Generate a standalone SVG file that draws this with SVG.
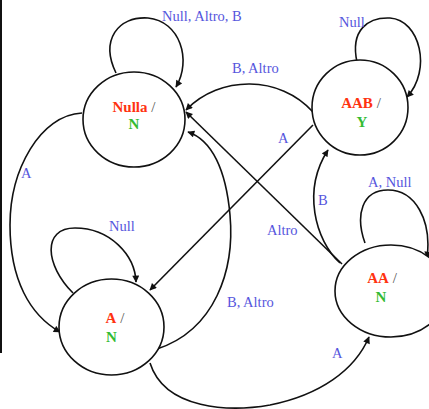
<svg xmlns="http://www.w3.org/2000/svg" width="429" height="409" viewBox="0 0 429 409">
<defs>
<marker id="ah" viewBox="0 0 10 10" refX="9" refY="5" markerWidth="8" markerHeight="7" markerUnits="userSpaceOnUse" orient="auto">
<path d="M0,0 L10,5 L0,10 z" fill="#111"/>
</marker>
<style>
.st{fill:#fff;stroke:#111;stroke-width:1.6}
.e{fill:none;stroke:#111;stroke-width:1.6;marker-end:url(#ah)}
.lb{font-family:"Liberation Serif","Times New Roman",serif;font-size:14.5px;fill:#5555dd}
.nm{font-family:"Liberation Serif","Times New Roman",serif;font-size:15px;font-weight:bold}
.r{fill:#ff3311}
.g{fill:#33bb33}
.s{fill:#555;font-weight:normal}
</style>
</defs>
<rect width="429" height="409" fill="#fff"/>
<rect x="0" y="0" width="2" height="353" fill="#111"/>
<g id="connectors">
<path class="e" d="M116,73 C100,40 118,16 148,18 C180,21 192,60 176,87"/>
<path class="e" d="M357,62 C350,30 368,17 390,18 C420,20 432,70 407,97"/>
<path class="e" d="M365,243 C355,215 362,190 388,190 C415,190 432,220 427,258"/>
<path class="e" d="M82,113 C40,115 10,170 10,225 C10,280 30,315 60,332"/>
<path class="e" d="M73,293 C45,265 42,228 75,228 C110,228 135,255 136,282"/>
<path class="e" d="M313,112 C280,75 220,75 186,110"/>
<path class="e" d="M342,264 L186,112"/>
<path class="e" d="M157,349 C215,330 235,270 230,215 C226,170 212,140 188,132"/>
<path class="e" d="M313,125 L150,290"/>
<path class="e" d="M340,263 C315,240 302,190 328,150"/>
<path class="e" d="M150,363 C165,410 230,412 270,405 C320,395 355,370 369,337"/>
</g>
<g id="nulla">
<ellipse class="st" cx="134" cy="119.5" rx="51" ry="47.5"/>
<text class="nm" x="134" y="112" text-anchor="middle"><tspan class="r">Nulla</tspan><tspan class="s"> /</tspan></text>
<text class="nm g" x="134" y="129" text-anchor="middle">N</text>
</g>
<g id="aab">
<ellipse class="st" cx="360" cy="107.5" rx="48" ry="47.5"/>
<text class="nm" x="361" y="108" text-anchor="middle"><tspan class="r">AAB</tspan><tspan class="s"> /</tspan></text>
<text class="nm g" x="362" y="127" text-anchor="middle">Y</text>
</g>
<g id="a">
<ellipse class="st" cx="111.5" cy="327" rx="52.5" ry="48"/>
<text class="nm" x="115" y="323" text-anchor="middle"><tspan class="r">A</tspan><tspan class="s"> /</tspan></text>
<text class="nm g" x="111.5" y="342" text-anchor="middle">N</text>
</g>
<g id="aa">
<ellipse class="st" cx="391" cy="291" rx="56" ry="46"/>
<text class="nm" x="382" y="283" text-anchor="middle"><tspan class="r">AA</tspan><tspan class="s"> /</tspan></text>
<text class="nm g" x="381" y="302" text-anchor="middle">N</text>
</g>
<g id="labels">
<text class="lb" x="162" y="21">Null, Altro, B</text>
<text class="lb" x="339" y="27">Null</text>
<text class="lb" x="232" y="73">B, Altro</text>
<text class="lb" x="278" y="143">A</text>
<text class="lb" x="368" y="187">A, Null</text>
<text class="lb" x="318" y="205">B</text>
<text class="lb" x="267" y="235">Altro</text>
<text class="lb" x="227" y="307">B, Altro</text>
<text class="lb" x="332" y="358">A</text>
<text class="lb" x="21" y="178">A</text>
<text class="lb" x="109" y="231">Null</text>
</g>
</svg>
